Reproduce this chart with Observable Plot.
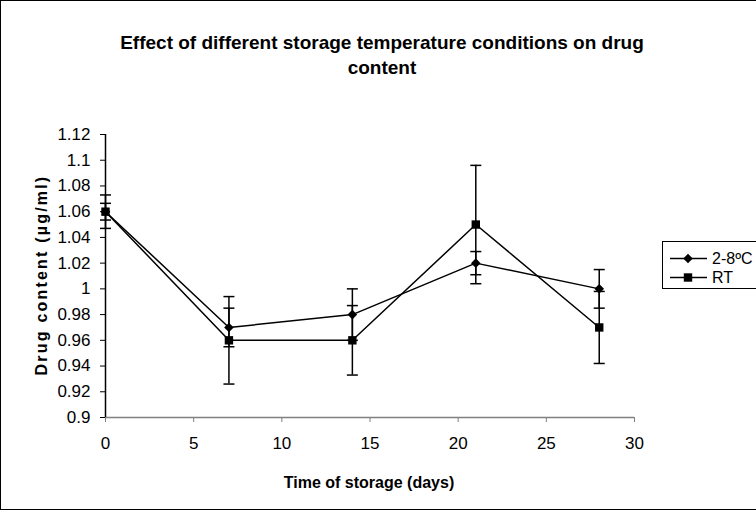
<!DOCTYPE html>
<html><head><meta charset="utf-8">
<script src="https://cdn.jsdelivr.net/npm/d3@7"></script>
<script src="https://cdn.jsdelivr.net/npm/@observablehq/plot@0.6"></script>
<style>
body{margin:0;background:#fff;font-family:Arial,"Liberation Sans",sans-serif;color:#000;}
#wrap{position:relative;width:756px;height:513px;overflow:hidden;background:#fff;}
#chart{position:absolute;left:0;top:0;}
#frame{position:absolute;left:0;top:0;width:770px;height:510px;border:1px solid #000;box-sizing:border-box;pointer-events:none;}
#title{position:absolute;left:0;width:764px;top:30px;text-align:center;font-weight:bold;font-size:19px;line-height:25px;}
#ylab{position:absolute;left:42px;top:275px;transform:translate(-50%,-50%) rotate(-90deg);font-weight:bold;font-size:16px;letter-spacing:2.2px;white-space:nowrap;}
#xlab{position:absolute;left:369px;top:483px;transform:translate(-50%,-50%);font-weight:bold;font-size:16px;white-space:nowrap;}
#legend{position:absolute;left:662px;top:241px;width:120px;height:48px;border:1px solid #000;box-sizing:border-box;background:#fff;}
.li{position:absolute;left:6px;height:19px;display:flex;align-items:center;font-size:16px;}
.li svg{margin-right:4px;}
</style></head><body>
<div id="wrap">
  <div id="chart"></div>
  <div id="title">Effect of different storage temperature conditions on drug<br>content</div>
  <div id="ylab">Drug content (µg/ml)</div>
  <div id="xlab">Time of storage (days)</div>
  <div id="legend"></div>
  <div id="frame"></div>
</div>
<script>
// ---- data ----
const days = [0, 7, 14, 21, 28];
const seriesNames = ["2-8ºC", "RT"];
const coldValues = [1.06, 0.97, 0.98, 1.02, 1.00];
const coldErrors = [0.0065, 0.015, 0.02, 0.009, 0.015];
const rtValues = [1.06, 0.96, 0.96, 1.05, 0.97];
const rtErrors = [0.013, 0.034, 0.027, 0.046, 0.028];
const xTicks = [0, 5, 10, 15, 20, 25, 30];
const yTicks = [0.9, 0.92, 0.94, 0.96, 0.98, 1, 1.02, 1.04, 1.06, 1.08, 1.1, 1.12];

const cold = days.map((d, i) => ({day: d, v: coldValues[i], e: coldErrors[i], series: seriesNames[0]}));
const rt = days.map((d, i) => ({day: d, v: rtValues[i], e: rtErrors[i], series: seriesNames[1]}));
const all = cold.concat(rt);

// custom symbols
const diamond = {draw(ctx, size){const r = Math.sqrt(size/Math.PI); ctx.moveTo(0,-r); ctx.lineTo(r,0); ctx.lineTo(0,r); ctx.lineTo(-r,0); ctx.closePath();}};
const square = {draw(ctx, size){const r = Math.sqrt(size/Math.PI); ctx.rect(-r,-r,2*r,2*r);}};
const cap = {draw(ctx, size){const r = Math.sqrt(size/Math.PI); ctx.moveTo(-r,0); ctx.lineTo(r,0);}};

const fmt = d => String(+d.toFixed(2));

const chart = Plot.plot({
  width: 756, height: 513,
  marginLeft: 105, marginRight: 122, marginTop: 134, marginBottom: 96,
  style: {fontFamily: "Arial, 'Liberation Sans', sans-serif", fontSize: "17px", color: "#000", background: "transparent", overflow: "visible"},
  x: {domain: [0, 30]},
  y: {domain: [0.9, 1.12]},
  marks: [
    Plot.axisX({ticks: xTicks, tickSize: 5, tickPadding: 14, stroke: "#808080", fill: "#000", label: null, tickFormat: fmt}),
    Plot.axisY({ticks: yTicks, tickSize: 5, tickPadding: 10, label: null, tickFormat: fmt}),
    Plot.ruleY([0.9], {stroke: "#808080", strokeWidth: 1.5}),
    Plot.ruleX([0], {stroke: "#000", strokeWidth: 1.5}),
    Plot.ruleX(all, {x: "day", y1: d => d.v - d.e, y2: d => d.v + d.e, stroke: "#000", strokeWidth: 1.5}),
    Plot.dot(all, {x: "day", y: d => d.v - d.e, symbol: cap, r: 5.5, fill: "none", stroke: "#000", strokeWidth: 1.5}),
    Plot.dot(all, {x: "day", y: d => d.v + d.e, symbol: cap, r: 5.5, fill: "none", stroke: "#000", strokeWidth: 1.5}),
    Plot.line(all, {x: "day", y: "v", z: "series", stroke: "#000", strokeWidth: 1.5}),
    Plot.dot(cold, {x: "day", y: "v", symbol: diamond, r: 4.8, fill: "#000", stroke: "none"}),
    Plot.dot(rt, {x: "day", y: "v", symbol: square, r: 4.2, fill: "#000", stroke: "none"})
  ]
});
document.getElementById("chart").appendChild(chart);

// legend
const legend = document.getElementById("legend");
const legendItems = [{name: seriesNames[0], shape: "diamond"}, {name: seriesNames[1], shape: "square"}];
legendItems.forEach((it, i) => {
  const div = document.createElement("div");
  div.className = "li";
  div.style.top = (7 + i * 19) + "px";
  const marker = it.shape === "diamond"
    ? '<path d="M19,4.8 L23.8,9.5 L19,14.2 L14.2,9.5Z" fill="#000"/>'
    : '<rect x="14.8" y="5.3" width="8.4" height="8.4" fill="#000"/>';
  div.innerHTML = '<svg width="39" height="19"><line x1="1" x2="38" y1="9.5" y2="9.5" stroke="#000" stroke-width="1.5"/>' + marker + '</svg><span></span>';
  div.querySelector("span").textContent = it.name;
  legend.appendChild(div);
});
</script>
</body></html>
